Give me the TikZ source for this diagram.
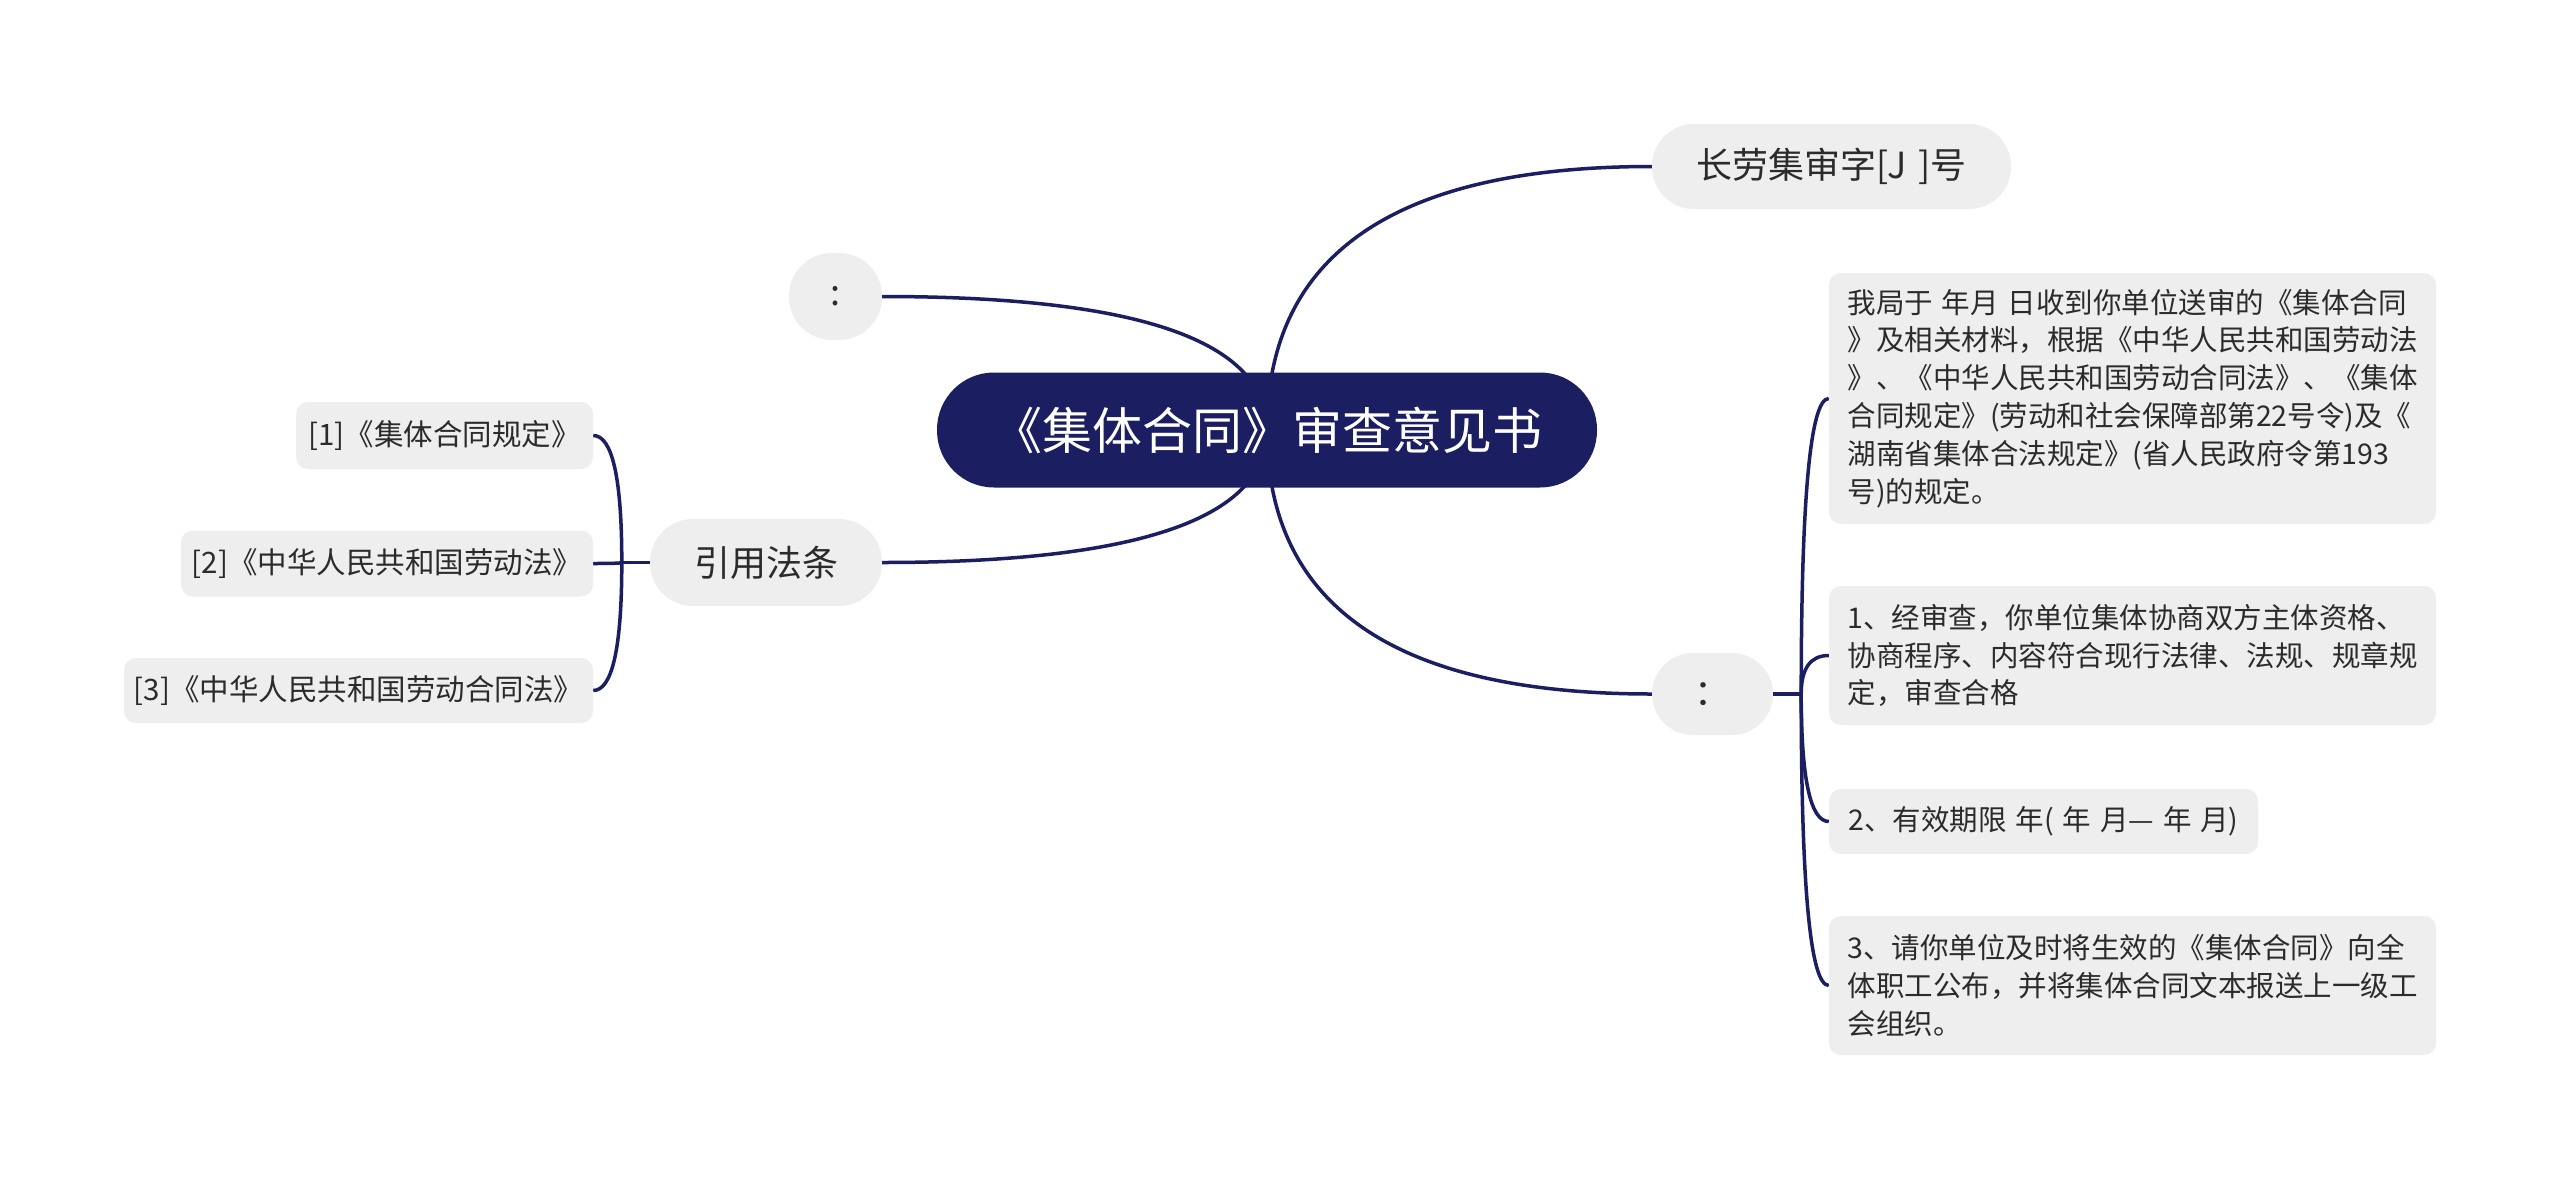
\documentclass[tikz,border=0pt]{standalone}
\usepackage{fontspec}
\setmainfont[WordSpace=1.4]{Noto Sans CJK SC}
\usetikzlibrary{calc,backgrounds}
\definecolor{navy}{HTML}{1B1F62}
\definecolor{boxgray}{HTML}{EEEEEE}
\definecolor{txt}{HTML}{2B2B2B}
\begin{document}
\begin{tikzpicture}[x=1pt,y=-1pt,
  conn/.style={draw=navy,line width=3.5pt},
  qcurve/.style={to path={.. controls ($(\tikztostart)!2/3!(\tikztostart |- \tikztotarget)$) and ($(\tikztotarget)!2/3!(\tikztostart |- \tikztotarget)$) .. (\tikztotarget)}},
  rootbox/.style={fill=navy,text=white,rounded corners=57pt,minimum width=660pt,minimum height=115pt,inner sep=0pt,font=\fontsize{50}{60}\selectfont},
  mainbox/.style={fill=boxgray,text=txt,inner sep=0pt,font=\fontsize{36}{44}\selectfont},
  leafbox/.style={fill=boxgray,text=txt,inner sep=0pt,rounded corners=12pt,font=\fontsize{28.5}{37.9}\selectfont}
]
\useasboundingbox (0,0) rectangle (2560,1181);

\node[rootbox] (root) at (1267,430) {《集体合同》审查意见书};
\node[mainbox,rounded corners=42pt,minimum width=359pt,minimum height=85pt] (t1) at (1831.5,166.5) {长劳集审字[J ]号};
\node[mainbox,rounded corners=43pt,minimum width=93pt,minimum height=87pt] (c1) at (835.5,296.5) {:};
\node[mainbox,rounded corners=43pt,minimum width=232pt,minimum height=87pt] (yy) at (766,562.5) {引用法条};
\node[mainbox,rounded corners=41pt,minimum width=121pt,minimum height=82pt] (c2) at (1712.5,694) {：};

\node[leafbox,font=\fontsize{29.5}{38}\selectfont,minimum width=297pt,minimum height=67pt] (l1) at (444.5,435.5) {[1]《集体合同规定》};
\node[leafbox,font=\fontsize{29.5}{38}\selectfont,minimum width=412pt,minimum height=66pt] (l2) at (387,563.5) {[2]《中华人民共和国劳动法》};
\node[leafbox,font=\fontsize{29.5}{38}\selectfont,minimum width=469pt,minimum height=65pt] (l3) at (358.5,690.5) {[3]《中华人民共和国劳动合同法》};

\node[leafbox,align=left,minimum width=607pt,minimum height=251pt] (rA) at (2132.5,398.5) {我局于 年月 日收到你单位送审的《集体合同\\》及相关材料，根据《中华人民共和国劳动法\\》、《中华人民共和国劳动合同法》、《集体\\合同规定》(劳动和社会保障部第22号令)及《\\湖南省集体合法规定》(省人民政府令第193\\号)的规定。};
\node[leafbox,align=left,minimum width=607pt,minimum height=139pt] (rB) at (2132.5,655.5) {1、经审查，你单位集体协商双方主体资格、\\协商程序、内容符合现行法律、法规、规章规\\定，审查合格};
\node[leafbox,minimum width=429pt,minimum height=65pt] (rC) at (2043.5,821.5) {2、有效期限 年( 年 月— 年 月)};
\node[leafbox,align=left,minimum width=607pt,minimum height=139pt] (rD) at (2132.5,985.5) {3、请你单位及时将生效的《集体合同》向全\\体职工公布，并将集体合同文本报送上一级工\\会组织。};

\begin{scope}[on background layer]
  \fill[white] (0,0) rectangle (2560,1181);
  \draw[conn] (root.center) to[qcurve] (t1.west);
  \draw[conn] (root.center) to[qcurve] (c1.east);
  \draw[conn] (root.center) to[qcurve] (yy.east);
  \draw[conn] (root.center) to[qcurve] (c2.west);
  \coordinate (ls) at ($(yy.west)+(-28,0)$);
  \draw[conn] (yy.west) -- (ls);
  \draw[conn] (ls) to[qcurve] (l1.east);
  \draw[conn] (ls) to[qcurve] (l2.east);
  \draw[conn] (ls) to[qcurve] (l3.east);
  \coordinate (rs) at ($(c2.east)+(28,0)$);
  \draw[conn] (c2.east) -- (rs);
  \draw[conn] (rs) to[qcurve] (rA.west);
  \draw[conn] (rs) to[qcurve] (rB.west);
  \draw[conn] (rs) to[qcurve] (rC.west);
  \draw[conn] (rs) to[qcurve] (rD.west);
\end{scope}
\end{tikzpicture}
\end{document}
